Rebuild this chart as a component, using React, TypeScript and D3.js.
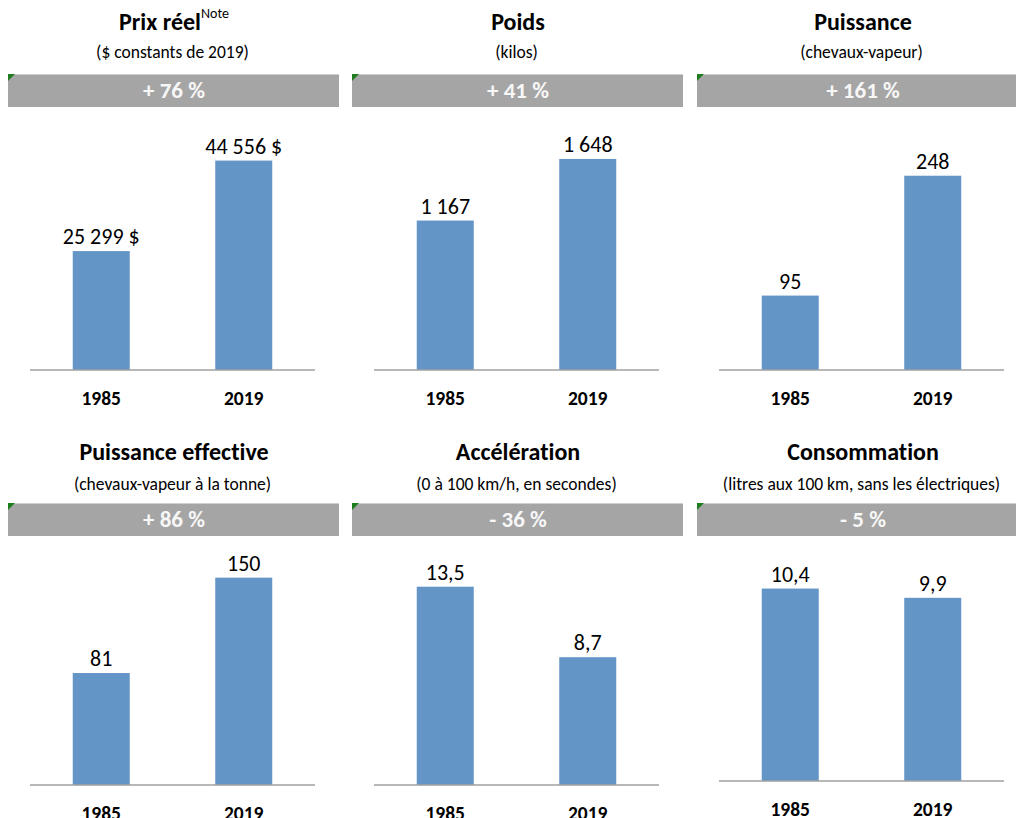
import React, { useEffect, useRef } from "react";
import * as d3 from "d3";

const years = ["1985", "2019"];
const titles = ["Prix réel", "Poids", "Puissance", "Puissance effective", "Accélération", "Consommation"];
const titleNotes = ["Note", "", "", "", "", ""];
const subtitles = [
  "($ constants de 2019)",
  "(kilos)",
  "(chevaux-vapeur)",
  "(chevaux-vapeur à la tonne)",
  "(0 à 100 km/h, en secondes)",
  "(litres aux 100 km, sans les électriques)",
];
const changes = ["+ 76 %", "+ 41 %", "+ 161 %", "+ 86 %", "- 36 %", "- 5 %"];
const values1985 = [25299, 1167, 95, 81, 13.5, 10.4];
const values2019 = [44556, 1648, 248, 150, 8.7, 9.9];
const decimals = [0, 0, 0, 0, 1, 1];
const suffixes = [" $", "", "", "", "", ""];
const axisMax = [50000, 1835, 300, 170, 16, 12.7];

const W = 1016;
const H = 818;
const FONT = "Carlito, Calibri, Lato, 'Open Sans', sans-serif";

const fr = d3.formatLocale({ decimal: ",", thousands: "\u00a0", grouping: [3], currency: ["", " $"] });

export default function App() {
  const ref = useRef<SVGSVGElement>(null);

  useEffect(() => {
    const svg = d3.select(ref.current);
    svg.selectAll("*").remove();

    const colX = [30, 374, 719];
    const axisW = 285;
    const rows = [
      { titleY: 30, subY: 58, bannerY: 74, axisY: [370, 370, 370] },
      { titleY: 460, subY: 490, bannerY: 503, axisY: [785, 785, 781] },
    ];
    const plotH = 235;

    titles.forEach((title, i) => {
      const r = Math.floor(i / 3);
      const c = i % 3;
      const row = rows[r];
      const x0 = colX[c];
      const axisY = row.axisY[c];
      const g = svg
        .append("g")
        .attr("transform", `translate(${x0},0)`)
        .style("font-variant-ligatures", "none")
        .style("font-feature-settings", "'liga' 0, 'clig' 0");
      const cx = axisW / 2 + 1.5;

      // title
      const t = g
        .append("text")
        .attr("x", cx)
        .attr("y", row.titleY)
        .attr("text-anchor", "middle")
        .attr("font-family", FONT)
        .attr("font-weight", "bold")
        .attr("font-size", 24)
        .attr("fill", "#000");
      t.append("tspan").text(title);
      if (titleNotes[i]) {
        t.append("tspan")
          .attr("font-size", 14)
          .attr("font-weight", "normal")
          .attr("dy", -12)
          .text(titleNotes[i]);
      }

      // subtitle
      g.append("text")
        .attr("x", cx - 1.5)
        .attr("y", row.subY)
        .attr("text-anchor", "middle")
        .attr("font-family", FONT)
        .attr("font-size", 17.5)
        .attr("fill", "#000")
        .text(subtitles[i]);

      // banner
      g.append("rect")
        .attr("x", -22)
        .attr("y", row.bannerY)
        .attr("width", 331)
        .attr("height", 33)
        .attr("fill", "#a5a5a5");
      g.append("line")
        .attr("x1", -22)
        .attr("x2", 309)
        .attr("y1", row.bannerY + 0.5)
        .attr("y2", row.bannerY + 0.5)
        .attr("stroke", "#cfcfcf")
        .attr("stroke-width", 1);
      g.append("path")
        .attr("d", `M${-22},${row.bannerY} L${-15},${row.bannerY} L${-22},${row.bannerY + 7} Z`)
        .attr("fill", "#1e7d1e");
      g.append("text")
        .attr("x", cx)
        .attr("y", row.bannerY + 24)
        .attr("text-anchor", "middle")
        .attr("font-family", FONT)
        .attr("font-weight", "bold")
        .attr("font-size", 23)
        .attr("fill", "#f7f7f7")
        .text(changes[i]);

      // bars
      const x = d3.scaleBand<string>().domain(years).range([0, axisW]).paddingInner(0.6).paddingOuter(0.3);
      const y = d3.scaleLinear().domain([0, axisMax[i]]).range([axisY, axisY - plotH]);
      const vals = [values1985[i], values2019[i]];
      const fmt = fr.format(`,.${decimals[i]}f`);

      g.selectAll("rect.bar")
        .data(vals)
        .enter()
        .append("rect")
        .attr("class", "bar")
        .attr("x", (_, k) => x(years[k])!)
        .attr("width", x.bandwidth())
        .attr("y", (d) => y(d))
        .attr("height", (d) => axisY - y(d))
        .attr("fill", "#6395c7");

      g.selectAll("text.val")
        .data(vals)
        .enter()
        .append("text")
        .attr("class", "val")
        .attr("x", (_, k) => x(years[k])! + x.bandwidth() / 2)
        .attr("y", (d) => y(d) - 7)
        .attr("text-anchor", "middle")
        .attr("font-family", FONT)
        .attr("font-size", 22)
        .attr("fill", "#000")
        .text((d) => fmt(d) + suffixes[i]);

      // axis line
      g.append("line")
        .attr("x1", 0)
        .attr("x2", axisW)
        .attr("y1", axisY)
        .attr("y2", axisY)
        .attr("stroke", "#a0a0a0")
        .attr("stroke-width", 1.5);

      g.selectAll("text.yr")
        .data(years)
        .enter()
        .append("text")
        .attr("class", "yr")
        .attr("x", (d) => x(d)! + x.bandwidth() / 2)
        .attr("y", axisY + 35)
        .attr("text-anchor", "middle")
        .attr("font-family", FONT)
        .attr("font-weight", "bold")
        .attr("font-size", 19.5)
        .attr("fill", "#000")
        .text((d) => d);
    });
  }, []);

  return (
    <svg
      ref={ref}
      width={W}
      height={H}
      style={{ position: "absolute", left: 0, top: 0, background: "#fff" }}
    />
  );
}
